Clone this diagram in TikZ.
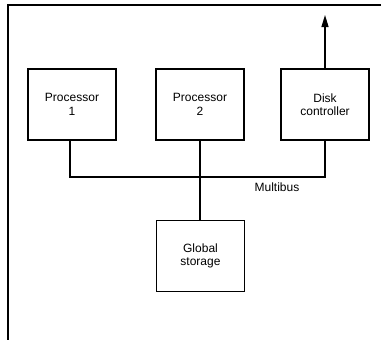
\documentclass[tikz,border=0pt]{standalone}
\usepackage{fontspec}
\setmainfont{Liberation Sans}
\usetikzlibrary{arrows.meta}
\begin{document}
\begin{tikzpicture}[x=1pt,y=-1pt,
  line width=1.3pt,
  blockbox/.style={draw, rectangle, minimum width=88pt, minimum height=71pt,
    align=center, inner sep=0pt, font=\fontsize{12}{13.5}\selectfont},
  lbl/.style={font=\fontsize{12}{13.5}\selectfont, inner sep=0pt}]
\useasboundingbox (0,0) rectangle (387,340);
% frame
\coordinate (frTR) at (381,5);
\coordinate (frTL) at (8,5);
\coordinate (frBL) at (8,340);
\draw[line width=1.1pt] (frTR) -- (frTL) -- (frBL);
% blocks
\node[blockbox] (p1) at (72,104.5) {Processor\\1};
\node[blockbox] (p2) at (200,104.5) {Processor\\2};
\node[blockbox] (dc) at (325,104.5) {Disk\\controller};
\node[blockbox] (gs) at (200.5,256) {Global\\storage};
% bus
\coordinate (bus) at (0,177);
\coordinate (out) at (325,15);
\draw ([xshift=-2pt]p1.south) -- ([xshift=-2pt]p1.south |- bus) -- (dc.south |- bus) -- (dc.south);
\draw (p2.south) -- (p2.south |- gs.north);
\draw[-{Triangle[width=7pt,length=12pt]}] (dc.north) -- (out);
\node[lbl] (mb) at (277,187.5) {Multibus};
\end{tikzpicture}
\end{document}
